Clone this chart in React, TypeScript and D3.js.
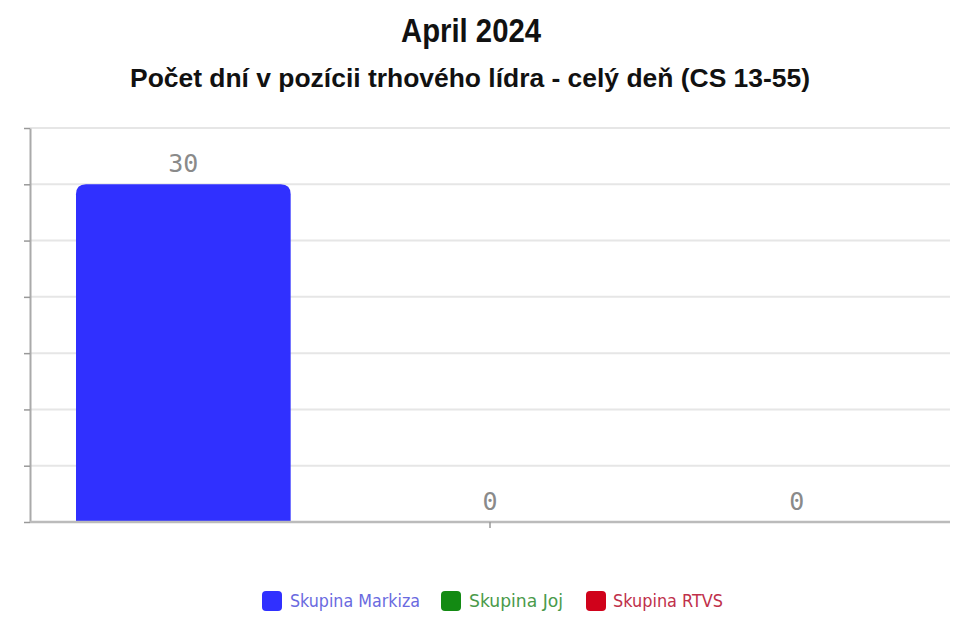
import { useEffect, useRef } from "react";
import * as d3 from "d3";

const categories = ["Skupina Markiza", "Skupina Joj", "Skupina RTVS"];
const values = [30, 0, 0];
const colors = ["#3030ff", "#138a13", "#d0021b"];
const legendTextColors = ["#6a6ae0", "#4a9a4a", "#c0304a"];
const yTicks = [0, 5, 10, 15, 20, 25, 30, 35];

const W = 959;
const H = 619;

export default function App() {
  const svgRef = useRef<SVGSVGElement | null>(null);

  useEffect(() => {
    document.body.style.margin = "0";
    if (!svgRef.current) return;
    const svg = d3.select(svgRef.current);
    svg.selectAll("*").remove();

    const left = 30;
    const right = 950;
    const top = 128;
    const bottom = 522;

    const x = d3.scaleBand<string>().domain(categories).range([left, right]).paddingInner(0.3).paddingOuter(0.15);
    const y = d3.scaleLinear().domain([0, 35]).range([bottom, top]);

    // titles
    svg
      .append("text")
      .attr("x", 401)
      .attr("y", 42)
      .attr("textLength", 140)
      .attr("lengthAdjust", "spacingAndGlyphs")
      .style("font-family", "'Liberation Sans', Arial, sans-serif")
      .style("font-weight", "bold")
      .style("font-size", "34px")
      .style("fill", "#111")
      .text("April 2024");
    svg
      .append("text")
      .attr("x", 470)
      .attr("y", 87)
      .attr("text-anchor", "middle")
      .attr("textLength", 680)
      .attr("lengthAdjust", "spacingAndGlyphs")
      .style("font-family", "'Liberation Sans', Arial, sans-serif")
      .style("font-weight", "bold")
      .style("font-size", "25px")
      .style("fill", "#111")
      .text("Počet dní v pozícii trhového lídra - celý deň (CS 13-55)");

    // grid
    svg
      .append("g")
      .selectAll("line")
      .data(yTicks.filter((d) => d > 0))
      .join("line")
      .attr("x1", left)
      .attr("x2", right)
      .attr("y1", (d) => y(d))
      .attr("y2", (d) => y(d))
      .attr("stroke", "#e6e6e6")
      .attr("stroke-width", 2);

    // y axis with ticks, no labels
    const yAxis = svg
      .append("g")
      .attr("transform", `translate(${left},0)`)
      .call(d3.axisLeft(y).tickValues(yTicks).tickSize(6).tickSizeOuter(0).tickFormat(() => ""));
    yAxis.select(".domain").attr("stroke", "#aaa").attr("stroke-width", 2);
    yAxis.selectAll(".tick line").attr("stroke", "#999").attr("stroke-width", 1.5);

    // bars
    const bw = x.bandwidth();
    const r = 10;
    svg
      .append("g")
      .selectAll("path")
      .data(values.map((v, i) => ({ v, c: categories[i], color: colors[i] })))
      .join("path")
      .attr("fill", (d) => d.color)
      .attr("d", (d) => {
        const x0 = x(d.c)!;
        const y0 = y(d.v);
        const h = bottom - y0;
        if (h <= 0) return "";
        const rr = Math.min(r, h);
        return `M${x0},${bottom}V${y0 + rr}Q${x0},${y0} ${x0 + rr},${y0}H${x0 + bw - rr}Q${x0 + bw},${y0} ${x0 + bw},${y0 + rr}V${bottom}Z`;
      });

    // x axis
    svg
      .append("line")
      .attr("x1", left)
      .attr("x2", right)
      .attr("y1", bottom)
      .attr("y2", bottom)
      .attr("stroke", "#bbb")
      .attr("stroke-width", 2.5);
    svg
      .append("line")
      .attr("x1", x(categories[1])! + bw / 2)
      .attr("x2", x(categories[1])! + bw / 2)
      .attr("y1", bottom)
      .attr("y2", bottom + 6)
      .attr("stroke", "#999")
      .attr("stroke-width", 1.5);

    // value labels
    svg
      .append("g")
      .selectAll("text")
      .data(values.map((v, i) => ({ v, c: categories[i] })))
      .join("text")
      .attr("x", (d) => x(d.c)! + bw / 2)
      .attr("y", (d) => y(d.v) - 12)
      .attr("text-anchor", "middle")
      .style("font-family", "'DejaVu Sans Mono', monospace")
      .style("font-size", "25px")
      .style("fill", "#8a8a8a")
      .text((d) => String(d.v));

    // legend
    const legendItems = [
      { x: 262, tx: 290, w: 130 },
      { x: 441, tx: 469, w: 94 },
      { x: 586, tx: 613, w: 110 },
    ];
    const lg = svg.append("g");
    categories.forEach((c, i) => {
      lg.append("rect")
        .attr("x", legendItems[i].x)
        .attr("y", 591)
        .attr("width", 20)
        .attr("height", 20)
        .attr("rx", 4)
        .attr("fill", colors[i]);
      lg.append("text")
        .attr("x", legendItems[i].tx)
        .attr("y", 607)
        .attr("textLength", legendItems[i].w)
        .attr("lengthAdjust", "spacingAndGlyphs")
        .style("font-family", "'DejaVu Sans Condensed', 'DejaVu Sans', sans-serif")
        .style("font-size", "17px")
        .style("fill", legendTextColors[i])
        .text(c);
    });
  }, []);

  return <svg ref={svgRef} width={W} height={H} style={{ display: "block", background: "#fff" }} />;
}
